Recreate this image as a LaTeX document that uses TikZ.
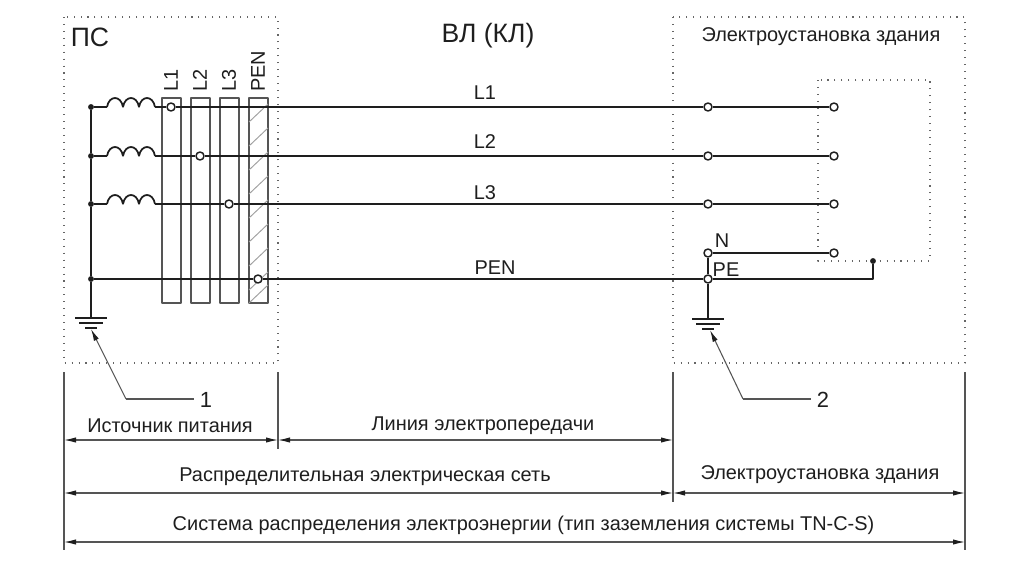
\documentclass[tikz,border=0pt]{standalone}
\usepackage{fontspec}
\setmainfont{Liberation Sans}
\usetikzlibrary{arrows.meta}
\definecolor{inkc}{HTML}{1E1E1E}
\definecolor{dimc}{HTML}{555555}
\tikzset{
  wire/.style={draw=inkc,line width=1.3bp},
  barbox/.style={draw=dimc,line width=1bp,rectangle,inner sep=0pt,minimum width=14.25bp,minimum height=153.75bp},
  hatchline/.style={draw=gray!75,line width=0.7bp},
  jdot/.style={circle,fill=inkc,inner sep=0pt,minimum size=4.4bp},
  term/.style={circle,draw=inkc,fill=white,line width=1.1bp,inner sep=0pt,minimum size=6bp},
  dotbox/.style={draw=gray!80!black,line width=0.8bp,dash pattern=on 0.8bp off 4.4bp},
  dimline/.style={draw=dimc,line width=0.8bp,<->},
  extline/.style={draw=dimc,line width=0.8bp},
  leader/.style={draw=dimc,line width=0.8bp},
  txt/.style={text=inkc,inner sep=0pt,font=\fontsize{15}{17}\selectfont},
  bigtxt/.style={text=inkc,inner sep=0pt,font=\fontsize{20}{22}\selectfont},
  numtxt/.style={text=inkc,inner sep=4.5bp,font=\fontsize{16.5}{18}\selectfont},
}
\begin{document}
\begin{tikzpicture}[x=0.75bp,y=-0.75bp,>={Latex[length=9bp,width=4bp,color=inkc]},line join=bevel]
    \useasboundingbox (0,0) rectangle (1024,576);
    %% boxes
    \draw [dotbox] (64,17) rectangle (278,363);
    \draw [dotbox] (673,17) rectangle (965,363);
    \draw [dotbox] (818,80) rectangle (930,261);
    %% bars
    \node (b1) at (171.5,200.5) [barbox] {};
    \node (b2) at (200.5,200.5) [barbox] {};
    \node (b3) at (229.5,200.5) [barbox] {};
    \node (b4) at (258.5,200.5) [barbox] {};
    \foreach \hy in {122,146,170,194,218,242,266,290}
      \draw [hatchline] (249,\hy) -- (268,\hy-18);
    \draw [hatchline] (249,303) -- (268,285);
    \node at (171,92) [txt,rotate=90,anchor=west] {L1};
    \node at (200,92) [txt,rotate=90,anchor=west] {L2};
    \node at (229,92) [txt,rotate=90,anchor=west] {L3};
    \node at (258,92) [txt,rotate=90,anchor=west] {PEN};
    %% bus points and terminals
    \node (d1) at (91,107) [jdot] {};
    \node (d2) at (91,156) [jdot] {};
    \node (d3) at (91,204) [jdot] {};
    \node (d4) at (91,279) [jdot] {};
    \node (t1) at (171,107) [term] {};
    \node (t2) at (200,156) [term] {};
    \node (t3) at (229,204) [term] {};
    \node (t4) at (258,279) [term] {};
    \node (m1) at (708,107) [term] {};
    \node (m2) at (708,156) [term] {};
    \node (m3) at (708,204) [term] {};
    \node (m4) at (708,253) [term] {};
    \node (m5) at (708,279) [term] {};
    \node (e1) at (834,107) [term] {};
    \node (e2) at (834,156) [term] {};
    \node (e3) at (834,204) [term] {};
    \node (e4) at (834,253) [term] {};
    \node (jd) at (873,261) [jdot] {};
    \coordinate (g1) at (91,318);
    \coordinate (g2) at (708,319);
    %% coils
    \foreach \cn/\cy in {1/107,2/156,3/204} {
      \coordinate (ca\cn) at (107,\cy);
      \coordinate (cb\cn) at (155,\cy);
      \draw [wire] (ca\cn) ..controls (109,\cy-12) and (121,\cy-12) .. (123,\cy)
        ..controls (125,\cy-12) and (137,\cy-12) .. (139,\cy)
        ..controls (141,\cy-12) and (153,\cy-12) .. (cb\cn);
      \draw [wire] (d\cn) -- (ca\cn);
    }
    %% wires
    \draw [wire] (d1) -- (d2);
    \draw [wire] (d2) -- (d3);
    \draw [wire] (d3) -- (d4);
    \draw [wire] (d4) -- (g1);
    \draw [wire] (cb1) -- (t1);
    \draw [wire] (cb2) -- (t2);
    \draw [wire] (cb3) -- (t3);
    \draw [wire] (d4) -- (t4);
    \draw [wire] (t1) -- (m1);
    \draw [wire] (t2) -- (m2);
    \draw [wire] (t3) -- (m3);
    \draw [wire] (t4) -- (m5);
    \draw [wire] (m1) -- (e1);
    \draw [wire] (m2) -- (e2);
    \draw [wire] (m3) -- (e3);
    \draw [wire] (m4) -- (e4);
    \draw [wire] (m4) -- (m5);
    \draw [wire] (m5) -- (g2);
    \draw [wire] (m5) -| (jd);
    %% earth
    \foreach \gx/\gy in {91/318,708/319} {
      \draw [wire] (\gx-16,\gy) -- (\gx+16,\gy);
      \draw [wire] (\gx-12,\gy+5) -- (\gx+12,\gy+5);
      \draw [wire] (\gx-6,\gy+10) -- (\gx+6,\gy+10);
    }
    %% wire labels
    \node at (485,93) [txt] {L1};
    \node at (485,142) [txt] {L2};
    \node at (485,192.5) [txt] {L3};
    \node at (495,268) [txt] {PEN};
    \node at (722,241) [txt] {N};
    \node at (726,270) [txt] {PE};
    %% titles
    \node at (90,37) [bigtxt] {ПС};
    \node at (488,36) [bigtxt] {ВЛ (КЛ)};
    \node at (821,37) [txt] {Электроустановка здания};
    %% leaders
    \node (n1) at (206,400) [numtxt] {1};
    \node (n2) at (823,400) [numtxt] {2};
    \coordinate (k1) at (126,399);
    \coordinate (k2) at (743,399);
    \coordinate (p1) at (91,329);
    \coordinate (p2) at (710,330);
    \draw [leader] (n1.west |- k1) -- (k1);
    \draw [leader,->] (k1) -- (p1);
    \draw [leader] (n2.west |- k2) -- (k2);
    \draw [leader,->] (k2) -- (p2);
    %% extension lines
    \coordinate (x1a) at (64,372);
    \coordinate (x1b) at (64,550);
    \coordinate (x2a) at (278,372);
    \coordinate (x2b) at (278,449);
    \coordinate (x3a) at (673,372);
    \coordinate (x3b) at (673,502);
    \coordinate (x4a) at (965,372);
    \coordinate (x4b) at (965,550);
    \draw [extline] (x1a) -- (x1b);
    \draw [extline] (x2a) -- (x2b);
    \draw [extline] (x3a) -- (x3b);
    \draw [extline] (x4a) -- (x4b);
    %% dimensions
    \coordinate (s1) at (64,440);
    \coordinate (s2) at (278,440);
    \coordinate (s3) at (673,440);
    \coordinate (s4) at (64,493);
    \coordinate (s5) at (673,493);
    \coordinate (s6) at (965,493);
    \coordinate (s7) at (64,542);
    \coordinate (s8) at (965,542);
    \draw [dimline] (s1) -- (s2);
    \draw [dimline] (s2) -- (s3);
    \draw [dimline] (s4) -- (s5);
    \draw [dimline] (s5) -- (s6);
    \draw [dimline] (s7) -- (s8);
    \node at (170,426) [txt] {Источник питания};
    \node at (483,426) [txt] {Линия электропередачи};
    \node at (365,477) [txt] {Распределительная электрическая сеть};
    \node at (820,475) [txt] {Электроустановка здания};
    \node at (523.5,525) [txt] {Система распределения электроэнергии (тип заземления системы TN-C-S)};
    %
\end{tikzpicture}
\end{document}
